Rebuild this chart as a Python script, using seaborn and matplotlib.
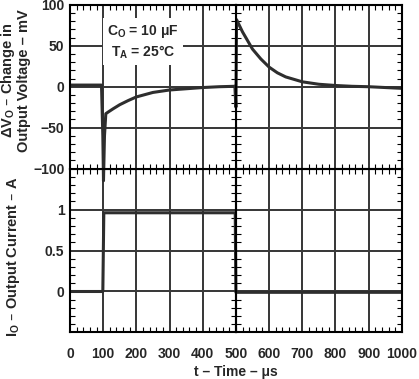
import matplotlib
matplotlib.use("Agg")
import matplotlib.pyplot as plt
from matplotlib.ticker import AutoMinorLocator, NullFormatter
from matplotlib.patches import Rectangle
import seaborn as sns

# values
t_v = [0, 95, 99, 101, 104, 108, 115, 130, 150, 175, 200, 250, 300, 350, 400, 450, 497,
       500, 502, 520, 550, 575, 600, 625, 650, 700, 750, 800, 850, 900, 950, 1000]
dv_mv = [2, 2, -60, -115, -60, -33, -31, -27, -22, -17, -12.5, -7, -4, -2.5, -1, 0, 0.5,
         -25, 82, 67, 46, 34, 24, 17, 12, 6, 3, 1.5, 0.5, 0, -1, -2]
t_i = [0, 99, 102, 498, 500, 1000]
io_a = [0, 0, 0.96, 0.96, -0.01, -0.01]

t_ticks = [0, 100, 200, 300, 400, 500, 600, 700, 800, 900, 1000]
v_ticks = [-100, -50, 0, 50, 100]
i_ticks = [-0.5, 0, 0.5, 1, 1.5]
i_labels = ["", "0", "0.5", "1", ""]

sns.set_style("ticks")
plt.rcParams['font.family'] = ['Liberation Sans', 'DejaVu Sans']
plt.rcParams['font.weight'] = 'bold'
plt.rcParams['font.size'] = 10
plt.rcParams['mathtext.default'] = 'regular'

fig = plt.figure(figsize=(4.19, 3.79), dpi=100)
x0, xm, x1 = 0.167, 0.563, 0.959
y0, ym, y1 = 0.1227, 0.5554, 0.987
ax_tl = fig.add_axes([x0, ym, xm - x0, y1 - ym])
ax_tr = fig.add_axes([xm, ym, x1 - xm, y1 - ym])
ax_bl = fig.add_axes([x0, y0, xm - x0, ym - y0])
ax_br = fig.add_axes([xm, y0, x1 - xm, ym - y0])
ax_tl.set_zorder(3)

trace = dict(color='#2e2e2e', lw=2.2, estimator=None, sort=False, legend=False, zorder=2)
for ax in [ax_tl, ax_tr]:
    sns.lineplot(x=t_v, y=dv_mv, ax=ax, **trace)
    ax.set_ylim(-100, 100)
    ax.set_yticks(v_ticks)
for ax in [ax_bl, ax_br]:
    sns.lineplot(x=t_i, y=io_a, ax=ax, **trace)
    ax.set_ylim(-0.5, 1.5)
    ax.set_yticks(i_ticks)
    ax.patch.set_visible(False)

# let the spike run past the panel bottom like on the scope
clip = Rectangle((0, -130), 500, 230, transform=ax_tl.transData)
ax_tl.lines[-1].set_clip_path(clip)

for ax in [ax_tl, ax_bl]:
    ax.set_xlim(0, 500)
    ax.set_xticks(t_ticks[:5])
for ax in [ax_tr, ax_br]:
    ax.set_xlim(500, 1000)
    ax.set_xticks(t_ticks[5:])

# scope graticule
grid_kw = dict(color='#3a3a3a', lw=1.2, zorder=1.5, antialiased=False)
for ax in [ax_tl, ax_tr, ax_bl, ax_br]:
    for t in t_ticks:
        ax.axvline(t, **grid_kw)
for ax in [ax_tl, ax_tr]:
    for v in v_ticks:
        ax.axhline(v, **grid_kw)
for ax in [ax_bl, ax_br]:
    for v in i_ticks:
        ax.axhline(v, **grid_kw)

ax_bl.set_yticklabels(i_labels)
for ax in [ax_tr, ax_br]:
    ax.yaxis.set_major_formatter(NullFormatter())
for ax in [ax_tl, ax_tr]:
    ax.xaxis.set_major_formatter(NullFormatter())

for ax in [ax_tl, ax_tr, ax_bl, ax_br]:
    ax.xaxis.set_minor_locator(AutoMinorLocator(5))
    ax.yaxis.set_minor_locator(AutoMinorLocator(5))
    ax.tick_params(which='both', direction='in', top=True, right=True, bottom=True, left=True,
                   length=3.5, width=0.8, color='black', labelsize=10)
    ax.tick_params(which='major', length=0)
    ax.tick_params(axis='x', pad=10.5)
    ax.tick_params(axis='y', pad=4)
    for sp in ax.spines.values():
        sp.set_color('black')
        sp.set_linewidth(1.5)

ax_tl.set_ylabel("ΔV$_O$ – Change in\nOutput Voltage – mV", fontweight='bold',
                 fontsize=10.5, linespacing=1.0)
ax_tl.yaxis.set_label_coords(-0.235, 0.54)
ax_bl.set_ylabel("I$_O$ – Output Current – A", fontweight='bold', fontsize=10.5)
ax_bl.yaxis.set_label_coords(-0.29, 0.46)
fig.text(0.563, 0.018, "t – Time – μs", ha='center', va='center', fontweight='bold')

ax_tl.text(220, 55, "C$_O$ = 10 μF\nT$_A$ = 25°C", ha='center', va='center',
           fontweight='bold', linespacing=1.3,
           bbox=dict(fc='white', ec='none', pad=3), zorder=5)

fig.savefig("out.png", dpi=100)
